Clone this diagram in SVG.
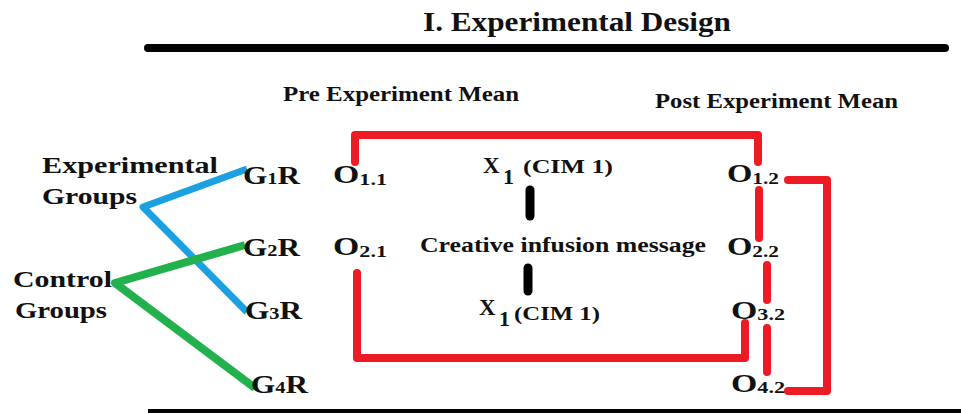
<svg xmlns="http://www.w3.org/2000/svg" width="961" height="414" viewBox="0 0 961 414">
<style>
text{font-family:"Liberation Serif","Times New Roman",serif;font-weight:bold;fill:#111;}
.red{stroke:#ed1c24;stroke-width:8;fill:none;stroke-linejoin:round;stroke-linecap:round;}
.blue{stroke:#1ba1e2;stroke-width:7;fill:none;stroke-linejoin:round;}
.green{stroke:#22b14c;stroke-width:8;fill:none;stroke-linejoin:round;}
.blk{stroke:#000;stroke-width:9;stroke-linecap:round;fill:none;}
.lbl{font-size:26px;}
.sub{font-size:17px;}
</style>
<rect width="961" height="414" fill="#fff"/>
<g id="title">
<text x="423" y="31" font-size="28" textLength="308" lengthAdjust="spacingAndGlyphs">I. Experimental Design</text>
<line x1="148" y1="48" x2="945" y2="48" stroke="#000" stroke-width="8" stroke-linecap="round"/>
<line x1="148" y1="411" x2="961" y2="411" stroke="#000" stroke-width="4"/>
</g>
<g id="headers">
<text x="283" y="101" font-size="20" textLength="236" lengthAdjust="spacingAndGlyphs">Pre Experiment Mean</text>
<text x="655" y="108" font-size="20" textLength="243" lengthAdjust="spacingAndGlyphs">Post Experiment Mean</text>
</g>
<g id="connectors">
<polyline class="blue" points="247,169 143,207 247,312"/>
<polyline class="green" points="245,245 115,283 255,388"/>
<polyline class="red" points="355,162 355,135 758,135 758,162"/>
<polyline class="red" points="357,273 357,358 745,358 745,323"/>
<polyline class="red" points="788,180 827,180 827,391 788,391"/>
<line class="red" x1="759" y1="190" x2="759" y2="238"/>
<line class="red" x1="767" y1="265" x2="767" y2="300"/>
<line class="red" x1="767" y1="328" x2="767" y2="372"/>
<line class="blk" x1="530" y1="190" x2="530" y2="216"/>
<line class="blk" x1="528" y1="268" x2="528" y2="291"/>
</g>
<g id="experimental-groups">
<text x="42" y="173" font-size="23" textLength="176" lengthAdjust="spacingAndGlyphs">Experimental</text>
<text x="42" y="204" font-size="23" textLength="95" lengthAdjust="spacingAndGlyphs">Groups</text>
</g>
<g id="control-groups">
<text x="13" y="287" font-size="23" textLength="99" lengthAdjust="spacingAndGlyphs">Control</text>
<text x="15" y="318" font-size="23" textLength="92" lengthAdjust="spacingAndGlyphs">Groups</text>
</g>
<g id="g1r"><text class="lbl" x="243" y="184" textLength="57" lengthAdjust="spacingAndGlyphs">G<tspan class="sub">1</tspan>R</text></g>
<g id="g2r"><text class="lbl" x="243" y="256" textLength="57" lengthAdjust="spacingAndGlyphs">G<tspan class="sub">2</tspan>R</text></g>
<g id="g3r"><text class="lbl" x="245" y="319" textLength="57" lengthAdjust="spacingAndGlyphs">G<tspan class="sub">3</tspan>R</text></g>
<g id="g4r"><text class="lbl" x="251" y="393" textLength="57" lengthAdjust="spacingAndGlyphs">G<tspan class="sub">4</tspan>R</text></g>
<g id="o11"><text class="lbl" x="333" y="183" textLength="54" lengthAdjust="spacingAndGlyphs">O<tspan class="sub" dy="2">1.1</tspan></text></g>
<g id="o21"><text class="lbl" x="333" y="255" textLength="54" lengthAdjust="spacingAndGlyphs">O<tspan class="sub" dy="2">2.1</tspan></text></g>
<g id="x1-top"><text y="173"><tspan x="483" font-size="23">X</tspan><tspan x="503" dy="11" font-size="22">1</tspan><tspan x="523" dy="-11" font-size="19" textLength="90" lengthAdjust="spacingAndGlyphs">(CIM 1)</tspan></text></g>
<g id="cim"><text x="420" y="252" font-size="20" textLength="286" lengthAdjust="spacingAndGlyphs">Creative infusion message</text></g>
<g id="x1-bottom"><text y="315"><tspan x="479" font-size="23">X</tspan><tspan x="499" dy="11" font-size="22">1</tspan><tspan x="514" dy="-6" font-size="19" textLength="86" lengthAdjust="spacingAndGlyphs">(CIM 1)</tspan></text></g>
<g id="o12"><text class="lbl" x="727" y="182" textLength="52" lengthAdjust="spacingAndGlyphs">O<tspan class="sub" dy="2">1.2</tspan></text></g>
<g id="o22"><text class="lbl" x="727" y="255" textLength="52" lengthAdjust="spacingAndGlyphs">O<tspan class="sub" dy="2">2.2</tspan></text></g>
<g id="o32"><text class="lbl" x="731" y="319" textLength="54" lengthAdjust="spacingAndGlyphs">O<tspan class="sub" dy="1">3.2</tspan></text></g>
<g id="o42"><text class="lbl" x="731" y="392" textLength="54" lengthAdjust="spacingAndGlyphs">O<tspan class="sub" dy="1">4.2</tspan></text></g>
</svg>
